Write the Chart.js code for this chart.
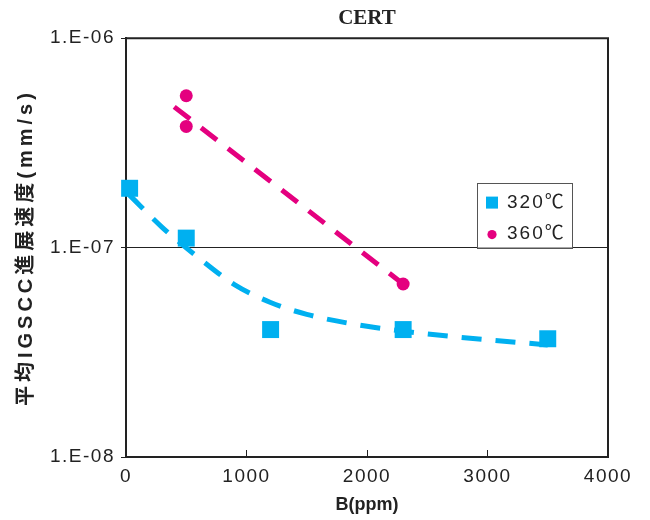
<!DOCTYPE html>
<html>
<head>
<meta charset="utf-8">
<script src="https://cdn.jsdelivr.net/npm/chart.js@4.4.1/dist/chart.umd.min.js"></script>
<style>
  html, body { margin: 0; padding: 0; background: #fff; }
  #wrap { width: 650px; height: 520px; }
</style>
</head>
<body>
<div id="wrap"><canvas id="c" width="650" height="520"></canvas></div>
<script>
// Boron concentration (ppm) vs. mean IGSCC growth rate (mm/s), CERT tests
const b320 = [30, 500, 1200, 2300, 3500];
const rate320 = [1.92e-7, 1.11e-7, 4.06e-8, 4.06e-8, 3.67e-8];
const b360 = [500, 500, 2300];
const rate360 = [5.31e-7, 3.79e-7, 6.7e-8];

// Trend curves
const trend320B = [25, 300, 600, 900, 1200, 1500, 2000, 2500, 3000, 3500];
const trend320Rate = [1.79e-7, 1.25e-7, 8.96e-8, 6.66e-8, 5.47e-8, 4.80e-8, 4.21e-8, 3.87e-8, 3.63e-8, 3.43e-8];
const trend360B = [400, 2300];
const trend360Rate = [4.7e-7, 6.7e-8];

const seriesLabels = ['320℃', '360℃'];
const yTickValues = [1e-8, 1e-7, 1e-6];
const yTickLabels = ['1.E-08', '1.E-07', '1.E-06'];
const xTickValues = [0, 1000, 2000, 3000, 4000];

const BLUE = '#00B0F0';
const PINK = '#E4007F';
const INK = '#222222';
const SANS = '"Liberation Sans", "Noto Sans CJK JP", sans-serif';

const pts = (xs, ys) => xs.map((x, i) => ({ x, y: ys[i] }));

// Per-scale letter spacing for tick labels and axis titles
const spacing = {
  x: { ticks: '1.5px', title: '0px' },
  y: { ticks: '1.5px', title: '4px' }
};
const letterSpacingPlugin = {
  id: 'letterSpacing',
  beforeDraw(chart) {
    for (const id of Object.keys(spacing)) {
      const s = chart.scales[id];
      if (!s || s.__spaced) continue;
      s.__spaced = true;
      for (const [fn, key] of [['drawLabels', 'ticks'], ['drawTitle', 'title']]) {
        const orig = s[fn].bind(s);
        s[fn] = (...args) => {
          const c = s.ctx;
          c.save();
          c.letterSpacing = spacing[id][key];
          orig(...args);
          c.restore();
        };
      }
    }
  }
};

// Top and right edges of the plot frame
const framePlugin = {
  id: 'frame',
  beforeDatasetsDraw(chart) {
    const { ctx, chartArea: a } = chart;
    ctx.save();
    ctx.strokeStyle = INK;
    ctx.lineWidth = 2;
    ctx.beginPath();
    ctx.moveTo(a.left, a.top);
    ctx.lineTo(a.right, a.top);
    ctx.lineTo(a.right, a.bottom);
    ctx.stroke();
    ctx.restore();
  }
};

// Boxed legend inside the plot, resting on the 1.E-07 line
const boxLegendPlugin = {
  id: 'boxLegend',
  afterDatasetsDraw(chart) {
    const { ctx, chartArea: a } = chart;
    const y = chart.scales.y;
    const w = 95, h = 65;
    const right = a.right - 36;
    const bottom = y.getPixelForValue(1e-7);
    const left = right - w, top = bottom - h;
    ctx.save();
    ctx.fillStyle = '#fff';
    ctx.fillRect(left, top, w, h);
    ctx.strokeStyle = '#555';
    ctx.lineWidth = 1;
    ctx.strokeRect(Math.round(left) + 0.5, Math.round(top) + 0.5, w, h);

    const items = chart.data.datasets.filter(d => d.inLegend);
    items.forEach((d, i) => {
      const cy = top + 20 + i * 31;
      const cx = left + 15;
      ctx.fillStyle = d.backgroundColor;
      if (d.pointStyle === 'rect') {
        ctx.fillRect(cx - 6, cy - 6, 12, 12);
      } else {
        ctx.beginPath();
        ctx.arc(cx, cy + 1, 4.6, 0, Math.PI * 2);
        ctx.fill();
      }
      ctx.fillStyle = INK;
      ctx.font = '19px ' + SANS;
      ctx.letterSpacing = '2px';
      ctx.textBaseline = 'middle';
      ctx.textAlign = 'left';
      ctx.fillText(d.label, left + 30, cy);
    });
    ctx.restore();
  }
};

new Chart(document.getElementById('c'), {
  type: 'scatter',
  data: {
    datasets: [
      {
        label: seriesLabels[0], inLegend: true,
        data: pts(b320, rate320),
        pointStyle: 'rect', pointRadius: 12, pointHoverRadius: 12,
        backgroundColor: BLUE, borderWidth: 0, showLine: false, clip: false
      },
      {
        label: seriesLabels[1], inLegend: true,
        data: pts(b360, rate360),
        pointStyle: 'circle', pointRadius: 6.5, pointHoverRadius: 6.5,
        backgroundColor: PINK, borderWidth: 0, showLine: false, clip: false
      },
      {
        label: seriesLabels[0] + ' trend',
        data: pts(trend320B, trend320Rate),
        showLine: true, borderColor: BLUE, borderWidth: 5, borderDash: [20, 14],
        borderCapStyle: 'butt', cubicInterpolationMode: 'monotone',
        pointRadius: 0, fill: false
      },
      {
        label: seriesLabels[1] + ' trend',
        data: pts(trend360B, trend360Rate),
        showLine: true, borderColor: PINK, borderWidth: 5, borderDash: [20, 14],
        borderCapStyle: 'butt', pointRadius: 0, fill: false
      }
    ]
  },
  options: {
    responsive: false,
    devicePixelRatio: 1,
    animation: false,
    events: [],
    layout: { padding: { left: 0, right: 42, top: 0, bottom: 0 } },
    plugins: {
      legend: { display: false },
      tooltip: { enabled: false },
      title: {
        display: true,
        text: 'CERT',
        fullSize: false,
        color: INK,
        font: { family: '"Liberation Serif", serif', size: 21, weight: 'bold' },
        padding: { top: 6, bottom: 7 }
      }
    },
    scales: {
      x: {
        type: 'linear',
        position: 'bottom',
        min: 0, max: 4000,
        afterBuildTicks: s => { s.ticks = xTickValues.map(v => ({ value: v })); },
        afterFit: s => { s.height = 63; },
        ticks: {
          color: INK,
          font: { family: SANS, size: 19 },
          padding: 15,
          callback: v => String(v)
        },
        grid: { drawOnChartArea: false, drawTicks: true, tickLength: -7, color: INK, lineWidth: 1 },
        border: { color: INK, width: 2 },
        title: {
          display: true,
          text: 'B(ppm)',
          color: INK,
          font: { family: SANS, size: 18, weight: 'bold' },
          padding: { top: 0, bottom: 4 }
        }
      },
      y: {
        type: 'logarithmic',
        position: 'left',
        min: 1e-8, max: 1e-6,
        afterBuildTicks: s => { s.ticks = yTickValues.map(v => ({ value: v })); },
        afterFit: s => { s.width = 126; },
        ticks: {
          color: INK,
          font: { family: SANS, size: 19 },
          padding: 6,
          callback: v => yTickLabels[yTickValues.findIndex(t => Math.abs(t - v) / t < 1e-6)]
        },
        grid: { drawOnChartArea: true, drawTicks: true, tickLength: 5, color: INK, lineWidth: 1 },
        border: { color: INK, width: 2 },
        title: {
          display: true,
          text: '平均IGSCC進展速度(mm/s)',
          color: INK,
          font: { family: SANS, size: 20, weight: 'bold' },
          padding: { top: 14 }
        }
      }
    }
  },
  plugins: [letterSpacingPlugin, framePlugin, boxLegendPlugin]
});
</script>
</body>
</html>
